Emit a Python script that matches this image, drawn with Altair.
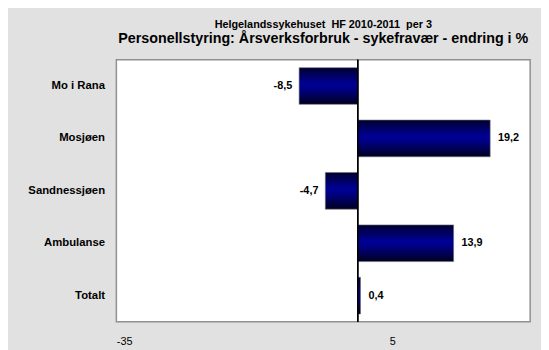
import altair as alt
import pandas as pd

categories = ["Mo i Rana", "Mosjøen", "Sandnessjøen", "Ambulanse", "Totalt"]
values = [-8.5, 19.2, -4.7, 13.9, 0.4]
value_labels = ["-8,5", "19,2", "-4,7", "13,9", "0,4"]
x_ticks = [-35, 5]

title_line1 = "Helgelandssykehuset \u00a0HF 2010-2011 \u00a0per 3"
title_line2 = "Personellstyring: Årsverksforbruk - sykefravær - endring i %"

df = pd.DataFrame({"kategori": categories, "verdi": values, "etikett": value_labels})

FONT = "Liberation Sans"

x_scale = alt.Scale(domain=[-35, 25], nice=False, zero=False)
y_scale = alt.Scale(paddingInner=0.3, paddingOuter=0.15)

base = alt.Chart(df)

gradient = alt.Gradient(
    gradient="linear",
    stops=[
        alt.GradientStop(color="#000030", offset=0),
        alt.GradientStop(color="#000098", offset=0.45),
        alt.GradientStop(color="#000080", offset=0.6),
        alt.GradientStop(color="#000020", offset=1),
    ],
    x1=0, x2=0, y1=0, y2=1,
)

bars = base.mark_bar(color=gradient, stroke="#707070", strokeWidth=0.6).encode(
    x=alt.X(
        "verdi:Q",
        scale=x_scale,
        axis=alt.Axis(
            values=x_ticks, title=None, grid=False, ticks=False, domain=False,
            labelPadding=14, labelFontSize=11, labelColor="black", labelFont=FONT,
            labelExpr="'' + datum.value",
        ),
    ),
    x2=alt.datum(0),
    y=alt.Y(
        "kategori:N",
        sort=categories,
        scale=y_scale,
        axis=alt.Axis(
            title=None, ticks=False, domain=False, labelPadding=12,
            labelFontSize=11.5, labelFontWeight="bold", labelColor="black",
            labelFont=FONT,
        ),
    ),
)

zero_rule = base.mark_rule(color="black", strokeWidth=1).encode(x=alt.datum(0))

pos_labels = base.transform_filter("datum.verdi >= 0").mark_text(
    align="left", baseline="middle", dx=8, fontWeight="bold", fontSize=11,
    font=FONT, color="black",
).encode(x="verdi:Q", y=alt.Y("kategori:N", sort=categories), text="etikett:N")

neg_labels = base.transform_filter("datum.verdi < 0").mark_text(
    align="right", baseline="middle", dx=-7, fontWeight="bold", fontSize=11,
    font=FONT, color="black",
).encode(x="verdi:Q", y=alt.Y("kategori:N", sort=categories), text="etikett:N")

chart = alt.layer(bars, zero_rule, pos_labels, neg_labels).properties(
    width=420,
    height=266,
    padding={"left": 110, "top": 50, "right": 11, "bottom": 26},
    autosize=alt.AutoSizeParams(type="none"),
    background="#e1e1e1",
    title=alt.TitleParams(
        text=title_line1,
        subtitle=title_line2,
        anchor="middle",
        frame="group",
        font=FONT,
        fontSize=11,
        fontWeight="bold",
        color="black",
        subtitleFont=FONT,
        subtitleFontSize=14.5,
        subtitleFontWeight="bold",
        subtitleColor="black",
        subtitlePadding=2,
        offset=14,
    ),
).configure_view(
    fill="white", stroke="#909090", strokeWidth=1.5
)

chart.save("out.html", embed_options={"renderer": "svg", "actions": False})
